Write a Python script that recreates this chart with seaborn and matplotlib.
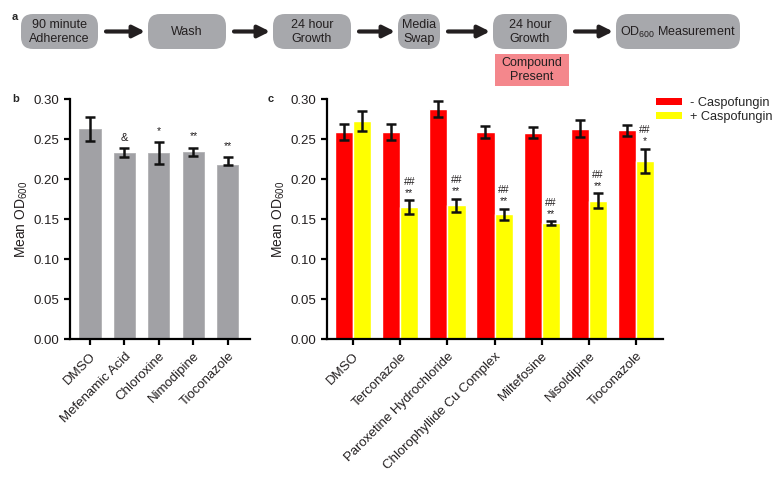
import matplotlib
matplotlib.use("Agg")
import matplotlib.pyplot as plt
import seaborn as sns
import pandas as pd
from matplotlib.patches import FancyBboxPatch, Patch

# ---- panel a: workflow steps
steps = ["90 minute\nAdherence", "Wash", "24 hour\nGrowth", "Media\nSwap",
         "24 hour\nGrowth", "OD$_{\\mathregular{600}}$ Measurement"]
compound_note = "Compound\nPresent"

# ---- panel b: single compounds
b_compounds = ["DMSO", "Mefenamic Acid", "Chloroxine", "Nimodipine", "Tioconazole"]
b_mean = [0.263, 0.233, 0.232, 0.234, 0.217]
b_err_lo = [0.015, 0.006, 0.013, 0.005, 0.0]
b_err_hi = [0.015, 0.006, 0.014, 0.005, 0.010]
b_marks = ["", "&", "*", "**", "**"]

# ---- panel c: with / without caspofungin
c_compounds = ["DMSO", "Terconazole", "Paroxetine Hydrochloride",
               "Chlorophyllide Cu Complex", "Miltefosine", "Nisoldipine", "Tioconazole"]
c_minus = [0.259, 0.259, 0.288, 0.259, 0.258, 0.263, 0.261]
c_minus_err = [0.010, 0.010, 0.010, 0.0075, 0.0065, 0.0105, 0.007]
c_plus = [0.273, 0.165, 0.167, 0.156, 0.145, 0.173, 0.223]
c_plus_err = [0.0125, 0.0085, 0.0085, 0.007, 0.002, 0.0095, 0.015]
c_marks_top = ["", "##", "##", "##", "##", "##", "##"]
c_marks_bot = ["", "**", "**", "**", "**", "**", "*"]
conditions = ["- Caspofungin", "+ Caspofungin"]

sns.set_style("ticks")
plt.rcParams['font.family'] = ['Liberation Sans', 'DejaVu Sans']
plt.rcParams['mathtext.fontset'] = 'custom'
plt.rcParams['mathtext.rm'] = 'Liberation Sans'

W, H = 781, 479
fig = plt.figure(figsize=(W / 100, H / 100), dpi=100)

# flowchart drawn in pixel space
axf = fig.add_axes([0, 0, 1, 1])
axf.set_xlim(0, W)
axf.set_ylim(H, 0)
axf.axis("off")
box_x = [(21, 98), (148, 226), (273, 351), (398, 440), (493, 567), (616, 740)]
box_y0, box_y1 = 14, 49
gray_box = "#a7a8ac"
for (x0, x1), label in zip(box_x, steps):
    axf.add_patch(FancyBboxPatch((x0, box_y0), x1 - x0, box_y1 - box_y0,
                                 boxstyle="round,pad=0,rounding_size=12",
                                 fc=gray_box, ec="none"))
    axf.text((x0 + x1) / 2, (box_y0 + box_y1) / 2 + 0.5, label, ha="center", va="center",
             fontsize=9, color="#231f20", linespacing=1.15)
for (a0, a1), (b0, b1) in zip(box_x[:-1], box_x[1:]):
    axf.annotate("", xy=(b0 - 3, 31.5), xytext=(a1 + 8, 31.5),
                 arrowprops=dict(arrowstyle="-|>,head_length=0.7,head_width=0.35",
                                 lw=3, color="#231f20", shrinkA=0, shrinkB=0))
px0, px1 = box_x[4]
axf.add_patch(FancyBboxPatch((px0 + 2, 54), px1 - px0, 32,
                             boxstyle="square,pad=0", fc="#f4878c", ec="none"))
axf.text((px0 + px1) / 2 + 2, 70, compound_note, ha="center", va="center",
         fontsize=9, color="#231f20", linespacing=1.15)
axf.text(12, 20, "a", fontsize=8, fontweight="bold")
axf.text(12, 102, "b", fontsize=8, fontweight="bold")
axf.text(268, 102, "c", fontsize=8, fontweight="bold")

ylab = "Mean OD$_{\\mathregular{600}}$"


def style_axis(ax):
    sns.despine(ax=ax)
    for s in ["left", "bottom"]:
        ax.spines[s].set_linewidth(1.6)
        ax.spines[s].set_color("black")
    ax.tick_params(axis="both", direction="out", length=4.5, width=1.6,
                   color="black", labelsize=9.5, labelcolor="#231f20", pad=3.5)
    ax.set_ylim(0, 0.30)
    ax.set_yticks([0, 0.05, 0.10, 0.15, 0.20, 0.25, 0.30])
    ax.set_yticklabels([f"{v:.2f}" for v in ax.get_yticks()])
    ax.set_xlabel("")
    ax.set_ylabel(ylab, fontsize=10, color="#231f20", labelpad=2)
    plt.setp(ax.get_xticklabels(), rotation=45, ha="right", rotation_mode="anchor")


# ---- panel b
axb = fig.add_axes([70 / W, 1 - 339 / H, 180 / W, 240 / H])
dfb = pd.DataFrame({"compound": b_compounds, "od": b_mean})
sns.barplot(data=dfb, x="compound", y="od", color="#a1a1a5", width=0.61,
            saturation=1, errorbar=None, ax=axb, edgecolor="#b0b0b3", linewidth=0.6)
xb = [p.get_x() + p.get_width() / 2 for p in axb.containers[0]]
axb.errorbar(xb, b_mean, yerr=[b_err_lo, b_err_hi], fmt="none", ecolor="#111111",
             elinewidth=1.8, capsize=3.3, capthick=1.8)
for x, m, e, t in zip(xb, b_mean, b_err_hi, b_marks):
    if t:
        axb.annotate(t, (x, m + e), xytext=(0, 5 if t == "&" else 6),
                     textcoords="offset points", ha="center", va="baseline",
                     fontsize=8 if t == "&" else 7.5, color="#231f20")
axb.set_xlim(-0.58, 4.64)
style_axis(axb)

# ---- panel c
axc = fig.add_axes([327 / W, 1 - 339 / H, 336 / W, 240 / H])
dfc = pd.DataFrame({
    "compound": c_compounds * 2,
    "condition": [conditions[0]] * len(c_compounds) + [conditions[1]] * len(c_compounds),
    "od": c_minus + c_plus,
})
palette = {conditions[0]: "#ff0000", conditions[1]: "#ffff00"}
sns.barplot(data=dfc, x="compound", y="od", hue="condition", palette=palette,
            width=0.77, gap=0, saturation=1, errorbar=None, legend=False, ax=axc)
for cont, vals, errs in zip(axc.containers, [c_minus, c_plus], [c_minus_err, c_plus_err]):
    xs = [p.get_x() + p.get_width() / 2 for p in cont]
    axc.errorbar(xs, vals, yerr=errs, fmt="none", ecolor="#111111",
                 elinewidth=1.8, capsize=3.3, capthick=1.8)
    if vals is c_plus:
        for x, m, e, t1, t2 in zip(xs, vals, errs, c_marks_top, c_marks_bot):
            if t2:
                axc.annotate(t2, (x, m + e), xytext=(0, 3), textcoords="offset points",
                             ha="center", va="baseline", fontsize=7.5, color="#231f20")
                axc.annotate(t1, (x, m + e), xytext=(0, 11), textcoords="offset points",
                             ha="center", va="baseline", fontsize=7.5, color="#231f20")
axc.set_xlim(-0.55, 6.57)
style_axis(axc)

handles = [Patch(fc=palette[c], ec="none") for c in conditions]
fig.legend(handles, conditions, loc="upper left", bbox_to_anchor=(656 / W, 1 - 97 / H),
           frameon=False, fontsize=9.2, handlelength=2.05, handleheight=0.45,
           handletextpad=0.6, labelspacing=0.18, borderpad=0, borderaxespad=0)

fig.savefig("out.png", dpi=100)
